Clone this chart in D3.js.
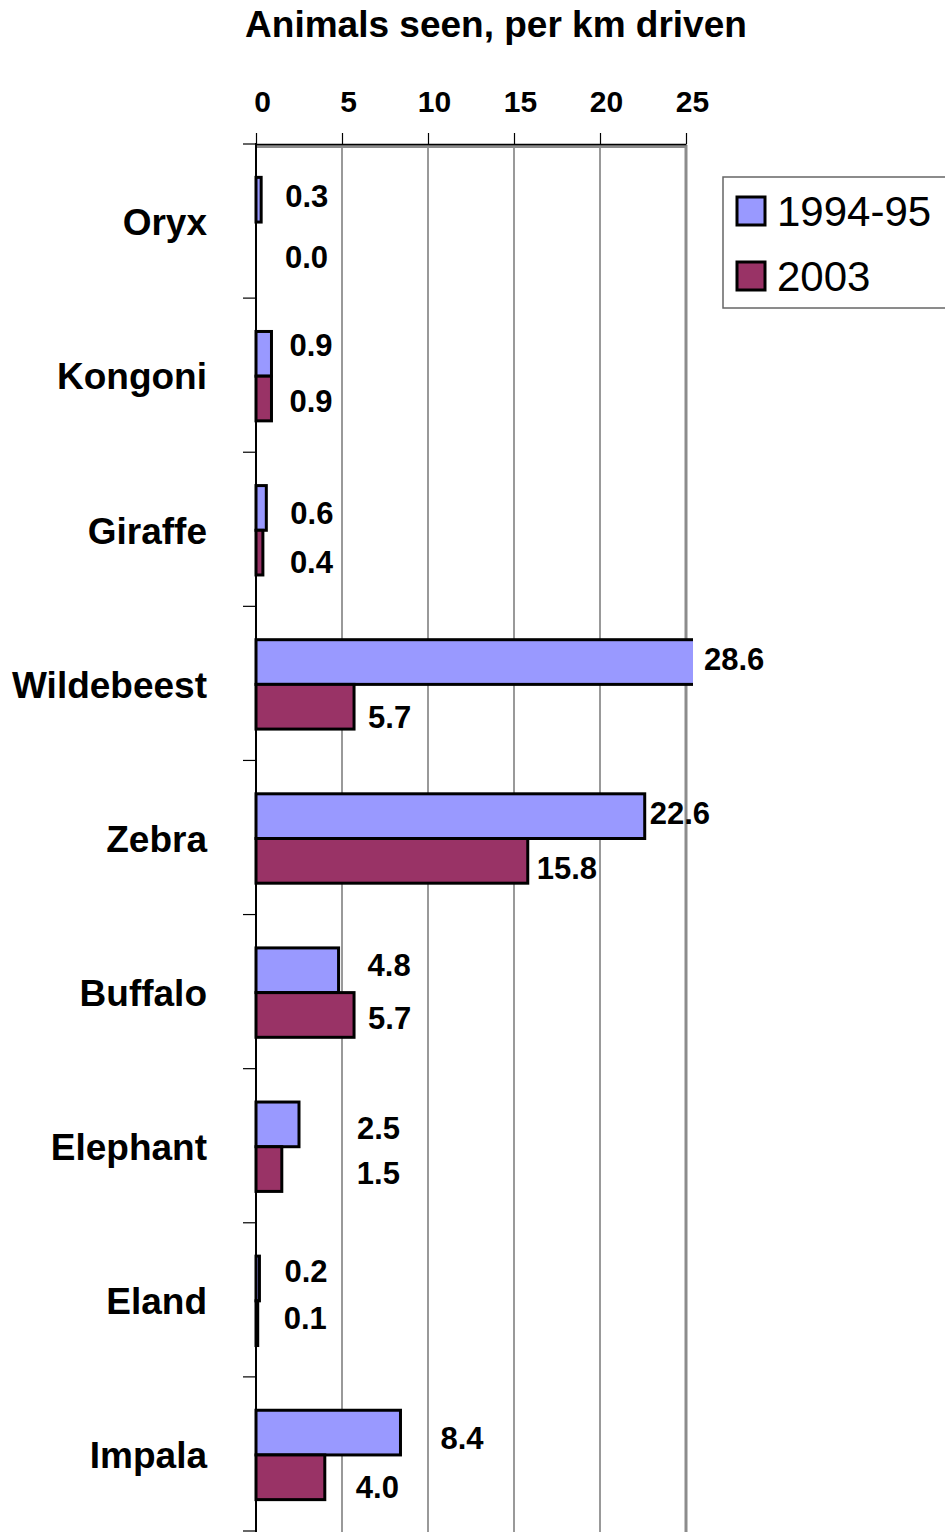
<!DOCTYPE html>
<html>
<head>
<meta charset="utf-8">
<script src="https://cdn.jsdelivr.net/npm/d3@7"></script>
<style>
  html, body { margin: 0; padding: 0; background: #fff; }
  svg { display: block; font-family: "Liberation Sans", Arial, sans-serif; }
</style>
</head>
<body>
<div id="wrapper"></div>
<script>
// 1. Data

const animals = ["Oryx", "Kongoni", "Giraffe", "Wildebeest", "Zebra", "Buffalo", "Elephant", "Eland", "Impala"];
const seen1994 = [0.3, 0.9, 0.6, 28.6, 22.6, 4.8, 2.5, 0.2, 8.4];
const seen2003 = [0.0, 0.9, 0.4, 5.7, 15.8, 5.7, 1.5, 0.1, 4.0];
const seriesNames = ["1994-95", "2003"];
const xTicks = [0, 5, 10, 15, 20, 25];

const colors = ["#9999ff", "#993366"];

// hand-placed value labels in the original: [dx, dy] from bar end / bar middle
const labelNudge = [
  [[24, -4], [29, 12]],
  [[18, -9], [18, 2]],
  [[24, 5], [27, 9]],
  [[11, -3], [14, 10]],
  [[5, -3], [9, 7]],
  [[29, -5], [14, 3]],
  [[58, 3], [75, 4]],
  [[25, -8], [26, -5]],
  [[40, 5], [31, 10]],
];

// 2. Dimensions

const dimensions = {
  width: 945,
  height: 1532,
  margin: { top: 145, right: 259, bottom: 0, left: 256 },
};
dimensions.boundedWidth = dimensions.width - dimensions.margin.left - dimensions.margin.right;
dimensions.boundedHeight = dimensions.height - dimensions.margin.top - dimensions.margin.bottom;

// 3. Canvas

const wrapper = d3.select("#wrapper")
  .append("svg")
  .attr("width", dimensions.width)
  .attr("height", dimensions.height);

const bounds = wrapper.append("g")
  .attr("transform", `translate(${dimensions.margin.left},${dimensions.margin.top})`);

// 4. Scales

const xScale = d3.scaleLinear()
  .domain([0, 25])
  .range([0, dimensions.boundedWidth]);

const yScale = d3.scaleBand()
  .domain(animals)
  .range([0, dimensions.boundedHeight])
  .paddingInner(0.42)
  .paddingOuter(0.21);

const ySub = d3.scaleBand()
  .domain(seriesNames)
  .range([0, yScale.bandwidth()]);

const rows = animals.map((name, i) => ({
  name,
  i,
  values: [seen1994[i], seen2003[i]],
}));

// 5. Peripherals behind the bars

bounds.append("g")
  .selectAll("line")
  .data(xTicks.slice(1, -1))
  .join("line")
  .attr("x1", d => xScale(d))
  .attr("x2", d => xScale(d))
  .attr("y1", 0)
  .attr("y2", dimensions.boundedHeight)
  .attr("stroke", "#555")
  .attr("stroke-width", 1.2);

// plot area border (grey, top and right)
bounds.append("path")
  .attr("d", `M0,1.5H${xScale(25)}V${dimensions.boundedHeight}`)
  .attr("fill", "none")
  .attr("stroke", "#8c8c8c")
  .attr("stroke-width", 3);

// 6. Bars

wrapper.append("clipPath")
  .attr("id", "plot-clip")
  .append("rect")
  .attr("x", -5)
  .attr("y", -5)
  .attr("width", xScale(25) + 12)
  .attr("height", dimensions.boundedHeight + 10);

const groups = bounds.append("g")
  .attr("clip-path", "url(#plot-clip)")
  .selectAll("g")
  .data(rows)
  .join("g")
  .attr("transform", d => `translate(0,${yScale(d.name)})`);

groups.selectAll("rect")
  .data(d => d.values.map((v, s) => ({ v, s })))
  .join("rect")
  .attr("x", 0)
  .attr("y", d => ySub(seriesNames[d.s]))
  .attr("width", d => xScale(d.v))
  .attr("height", ySub.bandwidth())
  .attr("fill", d => colors[d.s])
  .attr("stroke", "#000")
  .attr("stroke-width", d => (d.v === 0 ? 0 : 3));

// value labels
const barEnd = v => Math.min(xScale(v), xScale(25) + 7);

bounds.append("g")
  .selectAll("g")
  .data(rows)
  .join("g")
  .attr("transform", d => `translate(0,${yScale(d.name)})`)
  .selectAll("text")
  .data(d => d.values.map((v, s) => ({ v, s, i: d.i })))
  .join("text")
  .attr("x", d => barEnd(d.v) + labelNudge[d.i][d.s][0])
  .attr("y", d => ySub(seriesNames[d.s]) + ySub.bandwidth() / 2 + labelNudge[d.i][d.s][1])
  .attr("dy", "0.36em")
  .attr("font-size", 31)
  .attr("font-weight", "bold")
  .attr("fill", "#000")
  .text(d => d.v.toFixed(1));

// 7. Axes

const xAxisGenerator = d3.axisTop(xScale)
  .tickValues(xTicks)
  .tickSizeInner(11)
  .tickSizeOuter(0)
  .tickPadding(21);

const xAxis = bounds.append("g")
  .attr("transform", "translate(0,-1)")
  .call(xAxisGenerator);

xAxis.select(".domain").attr("stroke", "#000").attr("stroke-width", 1.5);
xAxis.selectAll(".tick line").attr("stroke", "#000").attr("stroke-width", 1.2);
xAxis.selectAll(".tick text")
  .attr("dx", 6)
  .attr("font-family", "Liberation Sans, Arial, sans-serif")
  .attr("font-size", 30)
  .attr("font-weight", "bold")
  .attr("fill", "#000");

const yAxisGenerator = d3.axisLeft(yScale)
  .tickSize(0)
  .tickPadding(49);

const yAxis = bounds.append("g").call(yAxisGenerator);

yAxis.select(".domain").remove();
yAxis.selectAll(".tick text")
  .attr("dy", "0.36em")
  .attr("font-family", "Liberation Sans, Arial, sans-serif")
  .attr("font-size", 37)
  .attr("font-weight", "bold")
  .attr("fill", "#000");

// category boundaries: small ticks to the left of the axis
const step = yScale.step();
bounds.append("g")
  .selectAll("line")
  .data(d3.range(animals.length + 1))
  .join("line")
  .attr("x1", -13)
  .attr("x2", 0)
  .attr("y1", d => d * step - 1)
  .attr("y2", d => d * step - 1)
  .attr("stroke", "#000")
  .attr("stroke-width", 1.2);

bounds.append("line")
  .attr("x1", 0)
  .attr("x2", 0)
  .attr("y1", -2)
  .attr("y2", dimensions.boundedHeight)
  .attr("stroke", "#000")
  .attr("stroke-width", 2);

// 8. Title and legend

wrapper.append("text")
  .attr("x", 496)
  .attr("y", 37)
  .attr("text-anchor", "middle")
  .attr("font-size", 37)
  .attr("font-weight", "bold")
  .text("Animals seen, per km driven");

const legend = wrapper.append("g")
  .attr("transform", "translate(723,177)");

legend.append("rect")
  .attr("width", 240)
  .attr("height", 131)
  .attr("fill", "#fff")
  .attr("stroke", "#666")
  .attr("stroke-width", 1.5);

const legendItems = legend.selectAll("g")
  .data(seriesNames)
  .join("g")
  .attr("transform", (d, i) => `translate(14,${20 + i * 65})`);

legendItems.append("rect")
  .attr("width", 28)
  .attr("height", 28)
  .attr("fill", (d, i) => colors[i])
  .attr("stroke", "#000")
  .attr("stroke-width", 3);

legendItems.append("text")
  .attr("x", 40)
  .attr("y", 29)
  .attr("font-size", 42)
  .text(d => d);
</script>
</body>
</html>
